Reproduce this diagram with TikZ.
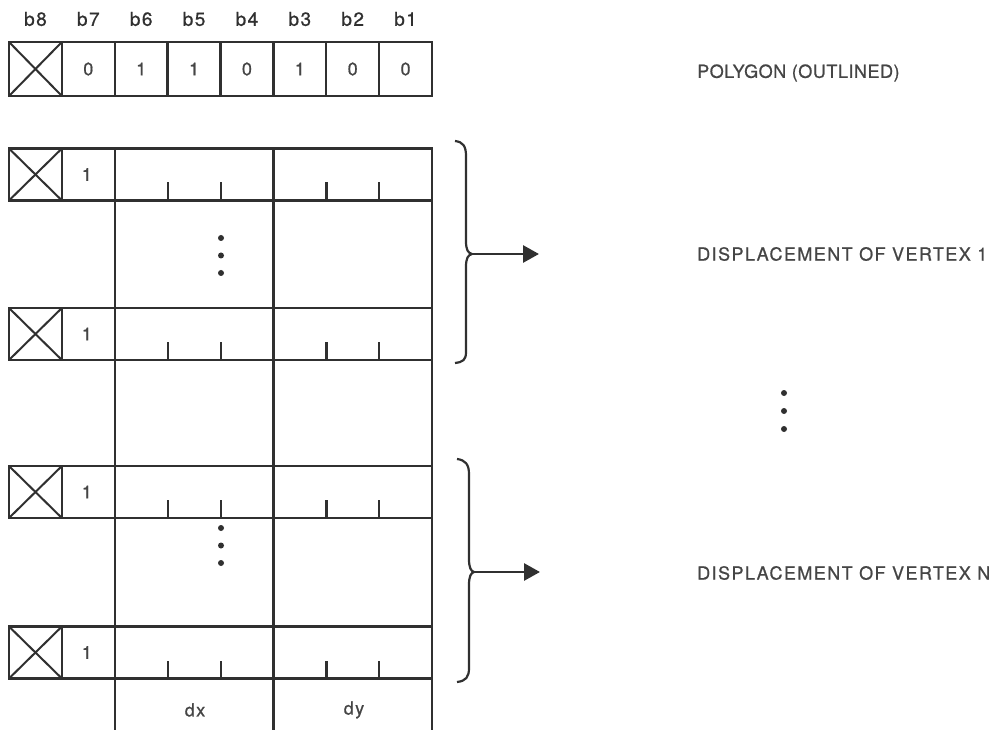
\documentclass[tikz,border=0pt]{standalone}
\usepackage{fontspec}
\setmainfont{TeX Gyre Heros}
\newfontfamily\spacedfont[LetterSpace=8,FakeBold=0.8]{TeX Gyre Heros}
\newfontfamily\polyfont[LetterSpace=3,FakeBold=0.8]{TeX Gyre Heros}
\newfontfamily\digitfont[FakeBold=0.8]{TeX Gyre Heros}
\usetikzlibrary{arrows.meta}
\definecolor{linec}{HTML}{303030}
\definecolor{txtc}{HTML}{454545}
\begin{document}
\begin{tikzpicture}[x=1pt,y=-1pt,
  ln/.style={line width=2.3pt, draw=linec},
  cell/.style={ln, minimum width=52.9pt, minimum height=52pt, inner sep=0pt, outer sep=0pt,
    font=\fontsize{18}{18}\selectfont\digitfont, text=txtc},
  xcell/.style={cell, path picture={\draw[line width=2pt, linec]
      (path picture bounding box.north west) -- (path picture bounding box.south east)
      (path picture bounding box.south west) -- (path picture bounding box.north east);}},
  wcell/.style={cell, minimum width=158.6pt},
  hdr/.style={font=\fontsize{19}{19}\selectfont\spacedfont, text=linec, inner sep=0pt},
  lbl/.style={font=\fontsize{18}{18}\selectfont\spacedfont, text=txtc, inner sep=0pt, anchor=west},
  plbl/.style={font=\fontsize{18}{18}\selectfont\polyfont, text=txtc, inner sep=0pt, anchor=west},
  sub/.style={font=\fontsize{18}{18}\selectfont\spacedfont, text=txtc, inner sep=0pt},
  tick/.style={ln},
  dot/.style={circle, fill=linec, inner sep=0pt, minimum size=6pt},
  brace/.style={line width=2.2pt, draw=linec},
  arr/.style={line width=2.8pt, draw=linec, -{Triangle[length=16pt,width=17pt]}}
]
\useasboundingbox (0,0) rectangle (1005,730);
\fill[white] (0,0) rectangle (1005,730);
\coordinate (bot) at (0,730);

% header row
\node[xcell, minimum height=54pt] (h8) at (35.45,69) {};
\foreach \v [count=\i] in {0,1,1,0,1,0,0} {
  \node[cell, minimum height=54pt] (h\i) at ({9+(\i+0.5)*52.875},69) {\v};
}
\node[hdr] (l8) at ([yshift=50pt]h8.center) {b8};
\foreach \i/\b in {1/7,2/6,3/5,4/4,5/3,6/2,7/1} {
  \node[hdr] (l\i) at ([yshift=50pt]h\i.center) {b\b};
}

% data rows
\foreach \r/\y in {1/174.5, 2/334, 3/492, 4/652.5} {
  \node[xcell] (x\r) at (35.45,\y) {};
  \node[cell] (o\r) at (88.3,\y) {\hspace*{-3pt}1};
  \node[wcell] (dx\r) at (194.2,\y) {};
  \node[wcell] (dy\r) at (352.8,\y) {};
  \foreach \off in {52.9,105.8} {
    \draw[tick] ([xshift=\off pt]dx\r.south west) -- ++(0,-18);
    \draw[tick] ([xshift=\off pt]dy\r.south west) -- ++(0,-18);
  }
}

% long column lines
\draw[ln] (dx1.north west) -- (dx1.north west |- bot);
\draw[ln] (dy1.north west) -- (dy1.north west |- bot);
\draw[ln] (dy1.north east) -- (dy1.north east |- bot);

% column labels
\node[sub] (dxl) at (195,710) {dx};
\node[sub] (dyl) at (354,710) {dy};

% dots in dx column
\foreach \yy [count=\k] in {238,255.5,273} { \node[dot] (da\k) at (221,\yy) {}; }
\foreach \yy [count=\k] in {528,545.5,563} { \node[dot] (db\k) at (221,\yy) {}; }
% dots on the right
\foreach \yy [count=\k] in {393,411,429} { \node[dot] (dr\k) at (784,\yy) {}; }

% braces
\draw[brace] (455,141) .. controls (463,142) and (466,146) .. (466,156) -- (466,241)
  .. controls (466,250) and (468,253) .. (472,254)
  .. controls (468,255) and (466,258) .. (466,267) -- (466,352)
  .. controls (466,360) and (463,362) .. (455,363);
\coordinate (t1) at (471,254);
\coordinate (e1) at (539,254);
\draw[brace] (457,459) .. controls (465,460) and (469,464) .. (469,474) -- (469,559)
  .. controls (469,568) and (471,571) .. (474,572)
  .. controls (471,573) and (469,576) .. (469,585) -- (469,668)
  .. controls (469,677) and (466,681) .. (457,682);
\coordinate (t2) at (473,572);
\coordinate (e2) at (540,572);
\draw[arr] (t1) -- (e1);
\draw[arr] (t2) -- (e2);

% labels
\node[plbl] (poly) at (697,73) {POLYGON (OUTLINED)};
\node[lbl] (v1) at (697,254) {DISPLACEMENT OF VERTEX 1};
\node[lbl] (vn) at (697,573) {DISPLACEMENT OF VERTEX N};
\end{tikzpicture}
\end{document}
